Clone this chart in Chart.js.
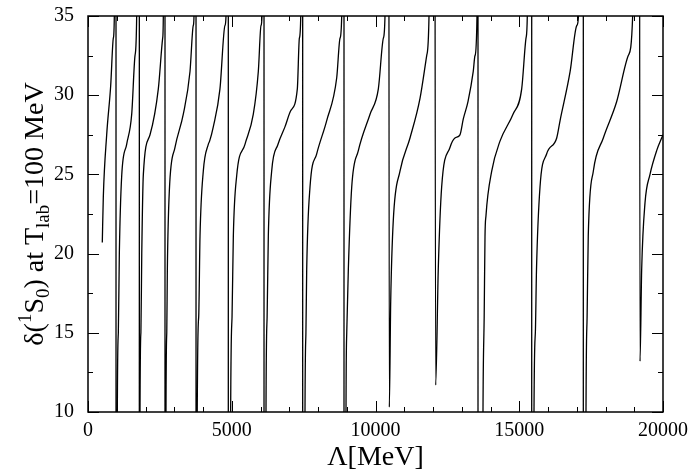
<!DOCTYPE html>
<html>
<head>
<meta charset="utf-8">
<script src="https://cdn.jsdelivr.net/npm/chart.js@4/dist/chart.umd.min.js"></script>
<style>
html, body { margin: 0; padding: 0; background: #fff; }
</style>
</head>
<body>
<canvas id="myChart" width="696" height="475"></canvas>
<script>
let ctx = document.getElementById('myChart').getContext('2d');

// cutoff values (x) and phase shift (y); 90 / -90 are the off-scale wrap points
let lambda = [
    497, 533, 650, 789, 881, 916, 974, 975,
    1020, 1055, 1090, 1172, 1345, 1520, 1635, 1693, 1785, 1786,
    1809, 1840, 1870, 1925, 2157, 2446, 2597, 2620, 2678, 2679,
    2713, 2740, 2760, 2830, 3026, 3315, 3548, 3662, 3687, 3757, 3758,
    3800, 3850, 3896, 4010, 4184, 4230, 4358, 4590, 4764, 4800, 4880, 4881,
    4962, 5010, 5055, 5171, 5460, 5750, 5924, 6018, 6052, 6122, 6123,
    6191, 6230, 6272, 6388, 6609, 6850, 7045, 7281, 7352, 7400, 7467, 7468,
    7548, 7580, 7607, 7722, 7955, 8303, 8651, 8766, 8825, 8904, 8905,
    8974, 9000, 9055, 9173, 9403, 9810, 10099, 10273, 10330, 10446,
    10480, 10529, 10619, 10852, 11200, 11548, 11781, 11861, 12035,
    12093, 12183, 12301, 12590, 12764, 12938, 13054, 13217, 13400, 13461, 13530, 13565, 13566,
    13739, 13780, 13809, 13843, 14042, 14330, 14783, 15085, 15235, 15280, 15433, 15434,
    15513, 15560, 15600, 15722, 15955, 16303, 16420, 16770, 17003, 17060, 17228, 17229,
    17322, 17360, 17400, 17576, 17924, 18390, 18793, 18945, 19165,
    19200, 19258, 19374, 19548, 19780, 20000
];
let delta = [
    20.7, 23.6, 27.5, 30.6, 33.6, 35, 90, -90,
    10, 15, 20, 24.9, 26.9, 28.8, 32.5, 35, 90, -90,
    10, 15, 20, 25.0, 27.5, 30.4, 33.6, 35, 90, -90,
    10, 15, 19.0, 24.0, 26.7, 28.8, 31.5, 34.4, 35, 90, -90,
    10, 16, 21.1, 25.2, 26.9, 27.1, 28.0, 30.4, 34.4, 35, 90, -90,
    10, 16, 21.1, 24.9, 26.9, 28.8, 31.5, 34.4, 35, 90, -90,
    10, 16, 21.1, 25.2, 26.9, 28.0, 29.0, 30.4, 33.6, 35, 90, -90,
    10, 15, 19.0, 24.2, 26.3, 28.4, 31.1, 33.6, 35, 90, -90,
    10, 15, 19.0, 24.2, 26.5, 28.8, 30.4, 33.6, 35, 90,
    10.3, 17.0, 22.1, 25.2, 27.3, 29.8, 32.5, 35, 90,
    11.7, 19.0, 24.2, 26.7, 27.3, 27.5, 28.5, 29.6, 31.5, 32.5, 35, 90, -90,
    10, 16, 21.1, 22.4, 25.2, 27.1, 28.8, 30.4, 33.6, 35, 90, -90,
    10, 15, 19.0, 24.2, 26.3, 27.3, 28.4, 31.5, 34.4, 35, 90, -90,
    10, 16, 21.1, 25.2, 27.3, 29.6, 32.5, 35, 90,
    13.2, 19.0, 23.2, 25.0, 26.5, 27.5
];

// tick marks
let xMajorTicks = [0, 5000, 10000, 15000, 20000];
let xMinorTicks = [1000, 2000, 3000, 4000, 6000, 7000, 8000, 9000, 11000, 12000, 13000, 14000, 16000, 17000, 18000, 19000];
let yMajorTicks = [10, 15, 20, 25, 30, 35];
let yMinorTicks = [12.5, 17.5, 22.5, 27.5, 32.5];

const FONT = "'Liberation Serif', 'Times New Roman', serif";

// box around the plot + inward ticks on all sides
const frameTicks = {
    id: 'frameTicks',
    afterDraw(chart) {
        const c = chart.ctx;
        const a = chart.chartArea;
        const x = chart.scales.x, y = chart.scales.y;
        c.save();
        c.strokeStyle = '#000';
        c.lineWidth = 1;
        c.beginPath();
        const tick = (px, len) => {
            px = Math.round(px) + 0.5;
            c.moveTo(px, a.bottom); c.lineTo(px, a.bottom - len);
            c.moveTo(px, a.top); c.lineTo(px, a.top + len);
        };
        xMajorTicks.forEach(v => tick(x.getPixelForValue(v), 11));
        xMinorTicks.forEach(v => tick(x.getPixelForValue(v), 5));
        const ytick = (py, len) => {
            py = Math.round(py) + 0.5;
            c.moveTo(a.left, py); c.lineTo(a.left + len, py);
            c.moveTo(a.right, py); c.lineTo(a.right - len, py);
        };
        yMajorTicks.forEach(v => ytick(y.getPixelForValue(v), 11));
        yMinorTicks.forEach(v => ytick(y.getPixelForValue(v), 5));
        c.stroke();
        c.lineWidth = 1.5;
        c.strokeRect(a.left, a.top, a.right - a.left, a.bottom - a.top);
        c.restore();
    }
};

// y axis title with sub/superscripts
const yTitle = {
    id: 'yTitle',
    afterDraw(chart) {
        const c = chart.ctx;
        const a = chart.chartArea;
        const parts = [
            ['\u03B4(', 0], ['1', 1], ['S', 0], ['0', -1],
            [') at T', 0], ['lab', -1], ['=100 MeV', 0]
        ];
        const fontFor = p => (p[1] === 0 ? '28px ' : '19px ') + FONT;
        c.save();
        let total = 0;
        parts.forEach(p => { c.font = fontFor(p); total += c.measureText(p[0]).width; });
        c.translate(43, (a.top + a.bottom) / 2);
        c.rotate(-Math.PI / 2);
        c.fillStyle = '#000';
        c.textBaseline = 'alphabetic';
        let u = -total / 2;
        parts.forEach(p => {
            c.font = fontFor(p);
            let dy = p[1] === 1 ? -12 : (p[1] === -1 ? 6 : 0);
            c.fillText(p[0], u, dy);
            u += c.measureText(p[0]).width;
        });
        c.restore();
    }
};

let points = lambda.map((v, i) => ({x: v, y: delta[i]}));

let chart = new Chart(ctx, {
    type: 'line',
    data: {
        datasets: [{
            data: points,
            borderColor: '#000',
            borderWidth: 1.3,
            pointRadius: 0,
            cubicInterpolationMode: 'monotone',
            fill: false
        }]
    },
    options: {
        responsive: false,
        animation: false,
        devicePixelRatio: 1,
        layout: { padding: { left: 0, right: 33, top: 10, bottom: 0 } },
        plugins: {
            legend: { display: false },
            tooltip: { enabled: false }
        },
        scales: {
            x: {
                type: 'linear',
                min: 0,
                max: 20000,
                grid: { display: false },
                border: { display: false },
                ticks: {
                    stepSize: 5000,
                    color: '#000',
                    padding: 1,
                    maxRotation: 0,
                    font: { family: FONT, size: 20, lineHeight: 1.0 },
                    callback: function(value) {
                        return String(value);
                    }
                },
                title: {
                    display: true,
                    text: '\u039B[MeV]',
                    color: '#000',
                    padding: { top: 0, bottom: 1 },
                    font: { family: FONT, size: 28 }
                },
                afterFit: s => { s.height = 63; }
            },
            y: {
                min: 10,
                max: 35,
                grid: { display: false },
                border: { display: false },
                ticks: {
                    stepSize: 5,
                    color: '#000',
                    padding: 6,
                    font: { family: FONT, size: 20, lineHeight: 1.0 }
                },
                afterFit: s => { s.width = 88; }
            }
        }
    },
    plugins: [frameTicks, yTitle]
});
</script>
</body>
</html>
